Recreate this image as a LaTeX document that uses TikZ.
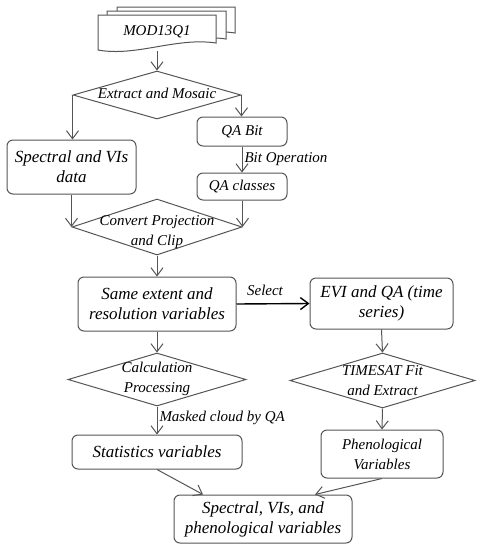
\documentclass[tikz,border=0pt]{standalone}
\usepackage{fontspec}
\setmainfont{Liberation Serif}
\usetikzlibrary{shapes.geometric,arrows.meta}
\definecolor{linegray}{RGB}{85,85,85}
\begin{document}
\begin{tikzpicture}
        [x=1pt,y=-1pt,
        big/.style={font=\itshape\fontsize{17}{20}\selectfont},
        small/.style={font=\itshape\fontsize{15}{20}\selectfont},
        box/.style={rectangle,rounded corners=6pt,draw=linegray,line width=1pt,align=center,inner sep=0pt},
        decision/.style={diamond,draw=linegray,line width=1pt,inner sep=0pt},
        dtext/.style={small,align=center},
        arr/.style={draw=linegray,line width=1pt,-{Straight Barb[length=8pt,width=12pt]}},
        doc/.style={draw=linegray,line width=1pt,fill=white}]
    \useasboundingbox (0,0) rectangle (482,550);
    % stacked documents
    \draw[doc] (117,7) -- (235,7) -- (235,33) .. controls (195,27) and (155,45) .. (117,38) -- cycle;
    \draw[doc] (107,11) -- (226,11) -- (226,39) .. controls (186,33) and (146,51) .. (107,44) -- cycle;
    \draw[doc] (98,15) -- (216,15) -- (216,43) .. controls (176,37) and (136,57) .. (98,50) -- cycle;
    \node[small,minimum width=118pt,minimum height=38pt,inner sep=0pt] (mod) at (157,32) {MOD13Q1};
    % upper part
    \node[decision,minimum width=168pt,minimum height=48pt,
        label={[dtext,yshift=2pt]center:Extract and Mosaic}] (ext) at (157,95) {};
    \node[box,big,minimum width=129pt,minimum height=54pt] (spec) at (71.5,167) {Spectral and VIs\\data};
    \node[box,small,minimum width=90pt,minimum height=29pt] (qab) at (242,131.5) {QA Bit};
    \node[box,small,minimum width=90pt,minimum height=27pt] (qac) at (242,186.5) {QA classes};
    \node[decision,minimum width=170pt,minimum height=56pt,
        label={[dtext,yshift=-5pt]center:Convert Projection\\and Clip}] (conv) at (157,227) {};
    % middle part
    \node[box,big,minimum width=158pt,minimum height=54pt] (same) at (157,304) {Same extent and\\resolution variables};
    \node[box,big,minimum width=143pt,minimum height=51pt] (evi) at (381.5,303.5) {EVI and QA (time\\series)};
    \node[decision,minimum width=178pt,minimum height=53pt,
        label={[dtext,yshift=1pt]center:Calculation\\Processing}] (calc) at (157,379.5) {};
    \node[decision,minimum width=185pt,minimum height=55pt,
        label={[dtext]center:TIMESAT Fit\\and Extract}] (tims) at (382.5,380.5) {};
    % lower part
    \node[box,big,minimum width=170pt,minimum height=34pt] (stat) at (157,452) {Statistics variables};
    \node[box,small,minimum width=122pt,minimum height=48pt] (phen) at (382,454) {Phenological\\Variables};
    \node[box,big,minimum width=178pt,minimum height=48pt] (fin) at (263,519) {Spectral, VIs, and\\phenological variables};
    % connectors
    \draw[arr] (mod.south) -- (ext.north);
    \draw[arr] (ext.west) -- (ext.west |- spec.north);
    \draw[arr] (ext.east) -- (ext.east |- qab.north);
    \draw[arr] (qab.south) -- node[small,right,inner sep=2pt] {Bit Operation} (qac.north);
    \draw[arr] (conv.west |- spec.south) -- (conv.west);
    \draw[arr] (conv.east |- qac.south) -- (conv.east);
    \draw[arr] (conv.south) -- (same.north);
    \draw[arr,draw=black,line width=1.4pt] (same.east) -- node[small,above,yshift=4pt,xshift=-8pt] {Select} (evi.west);
    \draw[arr] (same.south) -- (calc.north);
    \draw[arr] (evi.south) -- (tims.north);
    \draw[arr] (calc.south) -- node[small,right,pos=0.4,inner sep=2pt] {Masked cloud by QA} (stat.north);
    \draw[arr] (tims.south) -- (phen.north);
    \draw[arr] (stat.south) -- ([xshift=-60pt]fin.north);
    \draw[arr] (phen.south) -- ([xshift=52pt]fin.north);
\end{tikzpicture}
\end{document}
